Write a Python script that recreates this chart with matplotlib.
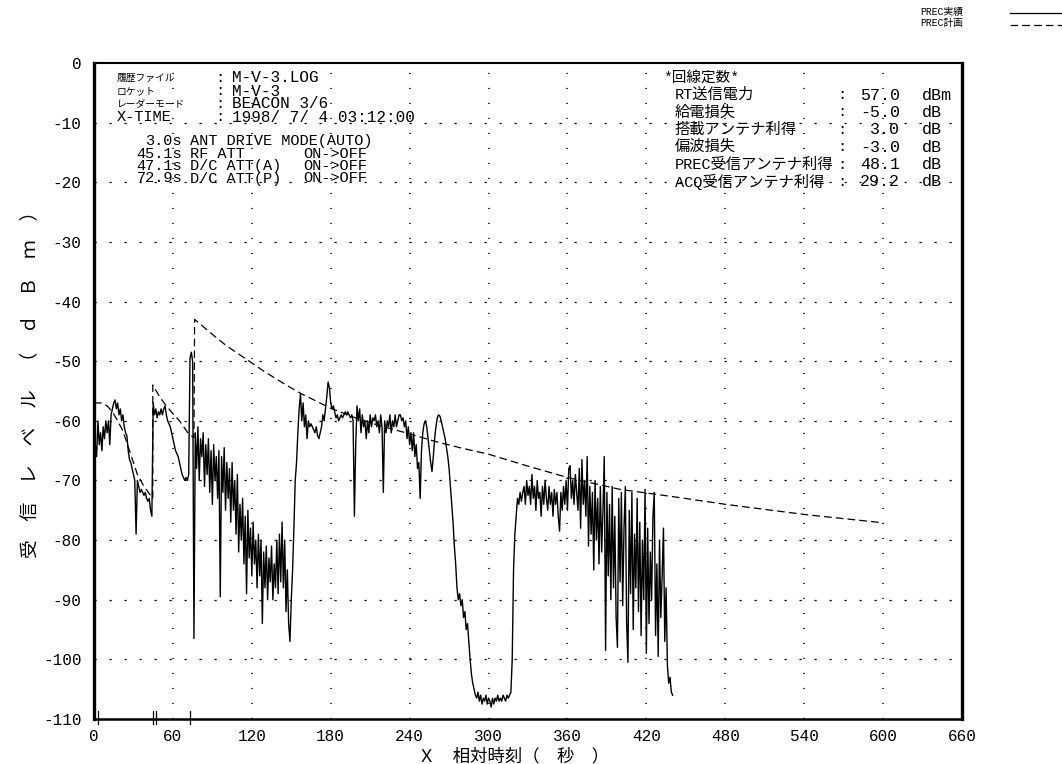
import numpy as np
import matplotlib

matplotlib.use("Agg")
import matplotlib.pyplot as plt
from matplotlib.lines import Line2D

plt.rcParams.update({
    "axes.unicode_minus": False,
    "lines.scale_dashes": False,
})

MONO = ["Liberation Mono", "Noto Sans CJK JP"]
JP = ["Noto Sans CJK JP", "DejaVu Sans"]
W, H = 1062, 764

# measured PREC level, one sample per second from t = 0 s
MEAS_DB = [
    -86, -64, -66, -60, -64, -62, -65, -61, -63, -60,
    -62, -60, -64, -59, -58, -57, -56.5, -58, -57, -59,
    -58, -60, -59, -61, -62, -62.5, -65, -66.5, -67, -68,
    -69, -70, -79, -70, -71, -72, -71.5, -72, -72.5, -72,
    -73, -73.5, -73, -75, -76, -57, -59, -58, -59.5, -58.5,
    -59, -58, -59, -58, -57.5, -59, -60, -60.5, -61, -62,
    -63, -64, -65, -65.5, -66, -67, -68, -69, -69.5, -70,
    -69.5, -70, -69, -49.5, -48.5, -50, -96.5, -62, -68, -61,
    -70, -63, -66, -62, -71, -64, -69, -63, -72, -65,
    -74, -64, -70, -66, -73, -65, -89.5, -66, -72, -64.5,
    -75, -67, -73, -68, -77, -67, -75, -70, -79, -69,
    -82, -74, -80, -73, -84, -76, -89, -75, -83, -78,
    -86, -77, -84, -80, -88, -79, -86, -80, -94, -82,
    -88, -81, -90, -83, -87, -81, -90, -84, -88, -80,
    -89, -79, -87, -77, -88, -80, -92, -85, -94, -97,
    -90, -85, -78, -70, -67, -62, -58, -55.5, -60, -57,
    -61, -59, -63, -60, -61, -60.5, -61, -61.5, -62, -61,
    -62.5, -63, -62, -61, -59, -60, -58, -56, -53.5, -54.5,
    -57, -58, -57.5, -58.5, -59.5, -59, -60, -59.5, -59, -59.5,
    -59, -58.5, -59, -58.5, -59, -59.5, -59, -60, -76, -64,
    -57.5, -60, -58, -62, -59, -61, -60, -63, -60, -62,
    -59, -61, -59.5, -60, -59, -61, -60, -62, -59, -61,
    -72, -60, -62, -60, -61, -59, -62, -60, -61, -59,
    -61, -60, -59, -59, -60, -59.5, -61, -60, -63, -61,
    -64, -62, -65, -62, -66, -64, -68, -67, -73, -65,
    -62, -60.5, -60, -61, -63, -65, -67, -68.5, -66, -63,
    -61, -59.5, -59, -59.2, -60, -61, -62, -63, -64.5, -66,
    -68, -71, -74, -77, -81, -84, -88, -90, -89, -91,
    -90, -93, -92, -95, -94, -97, -100, -102.5, -104, -105,
    -106, -106.5, -105.5, -107, -106, -107.5, -106.5, -107, -106, -107.5,
    -106.5, -107, -108, -106.5, -107.5, -106.5, -107, -106, -107, -106.5,
    -107, -106, -106.5, -107, -106, -106.5, -106, -105.5, -100, -85,
    -79, -76, -73, -74, -72, -73.5, -72, -71, -74, -70,
    -72.5, -71, -74, -69, -73, -71, -75, -70, -73, -72,
    -76, -71, -74, -70, -73, -75, -71, -74, -72, -76,
    -71.5, -74, -72, -76, -78.5, -72, -75, -71, -74, -70,
    -75, -68, -67.5, -73, -70, -74, -69, -72, -75, -68,
    -78, -66.5, -74, -70, -76, -66, -81, -71, -79, -72,
    -85, -70, -80, -73, -84, -71, -82, -75, -66, -98.5,
    -72, -86, -74, -90, -71, -88, -76, -93, -98, -73,
    -87, -72, -91, -78, -71, -94, -100.5, -75, -89, -72,
    -95, -79, -88, -73, -92, -77, -96, -80, -90, -71.5,
    -99, -78, -94, -82, -90, -76, -72, -96, -84, -99.5,
    -80, -93, -86, -78, -97, -88, -101, -104, -103, -105.5,
    -106,
]
MEAS_T = np.arange(len(MEAS_DB))

# planned PREC level
PLAN_T = [0, 5, 10, 14, 18, 22, 27, 33, 38, 44.7, 44.7, 50, 55, 60, 65, 72, 76,
          76.5, 90, 100, 110, 120, 130, 141, 150, 158, 170, 180, 200, 220, 237,
          260, 280, 300, 330, 360, 400, 443, 480, 540, 600]
PLAN_DB = [-57, -57, -57.5, -58.5, -60, -61.7, -65, -69, -71, -73, -54, -56,
           -57.5, -58.8, -60, -62.2, -62.8, -43, -45.5, -47.3, -48.8, -50.3,
           -51.8, -53.3, -54.5, -55.5, -56.8, -57.9, -59.6, -61, -62, -63.5,
           -64.6, -65.6, -67.6, -69.5, -71.5, -72.8, -74, -75.7, -77.1]

EVENT_T = [3.0, 45.1, 47.1, 72.9]
EVENT_TXT = ["ANT DRIVE MODE(AUTO)", "RF ATT", "D/C ATT(A)", "D/C ATT(P)"]
EVENT_STATE = ["", "ON->OFF", "ON->OFF", "ON->OFF"]

HEAD_KEYS = ["履歴ファイル", "ロケット", "レーダーモード", "X-TIME"]
HEAD_VALS = ["M-V-3.LOG", "M-V-3", "BEACON 3/6", "1998/ 7/ 4 03:12:00"]

LINK_KEYS = ["RT送信電力", "給電損失", "搭載アンテナ利得", "偏波損失",
             "PREC受信アンテナ利得", "ACQ受信アンテナ利得"]
LINK_VALS = ["57.0", "-5.0", "3.0", "-3.0", "48.1", "29.2"]
LINK_UNITS = ["dBm", "dB", "dB", "dB", "dB", "dB"]

X_TICKS = list(range(0, 661, 60))
Y_TICKS = list(range(0, -111, -10))


def px(x, y):
    return x / W, 1 - y / H


fig = plt.figure(figsize=(W / 100, H / 100), dpi=100)
ax = fig.add_axes([94 / W, 45 / H, 868 / W, 656 / H])

for x in X_TICKS[1:-1]:
    ax.axvline(x, color="black", lw=1.1, ls=(0, (0.8, 10)), zorder=1)
for y in Y_TICKS[1:-1]:
    ax.axhline(y, color="black", lw=0.9, ls=(0, (1.6, 9.2)), zorder=1)

ax.plot(MEAS_T, MEAS_DB, color="black", lw=1.0, zorder=3)
ax.plot(PLAN_T, PLAN_DB, color="black", lw=0.9, ls=(0, (5.5, 3)), zorder=3)

for t in EVENT_T:
    ax.plot([t, t], [-108.6, -110.8], color="black", lw=0.9, clip_on=False, zorder=4)

ax.set_xlim(0, 660)
ax.set_ylim(-110, 0)
ax.set_xticks(X_TICKS)
ax.set_xticklabels([str(v) for v in X_TICKS], family=MONO, fontsize=11.5)
ax.set_yticks(Y_TICKS)
ax.set_yticklabels([str(v) for v in Y_TICKS], family=MONO, fontsize=11.5)
ax.tick_params(axis="y", length=0, pad=9)
ax.tick_params(axis="x", length=0, pad=7)
for side, lw in [("left", 2.4), ("right", 2.4), ("top", 1.5), ("bottom", 1.8)]:
    ax.spines[side].set_linewidth(lw)

fig.text(*px(30, 380), "受\u3000信\u3000レ\u3000ベ\u3000ル\u3000（\u3000ｄ\u3000Ｂ\u3000ｍ\u3000）",
         rotation=90, ha="center", va="center", family=JP, fontsize=13.5)
fig.text(*px(514, 756), "Ｘ\u3000相対時刻（\u3000秒\u3000）", ha="center", va="center",
         family=JP, fontsize=12.5)

# header block
for i, (k, v) in enumerate(zip(HEAD_KEYS, HEAD_VALS)):
    y = 78 + 13 * i
    size = 11 if k == "X-TIME" else 7
    fig.text(*px(117, y), k, family=MONO, fontsize=size, va="center")
    fig.text(*px(215, y), ":", family=MONO, fontsize=11, va="center")
    fig.text(*px(232, y), v, family=MONO, fontsize=11.5, va="center")

# event log
for i, t in enumerate(EVENT_T):
    y = 141 + 12.5 * i
    fig.text(*px(182, y), f"{t:.1f}s", family=MONO, fontsize=11, va="center", ha="right")
    fig.text(*px(190, y), EVENT_TXT[i], family=MONO, fontsize=11, va="center")
    fig.text(*px(303, y), EVENT_STATE[i], family=MONO, fontsize=11, va="center")

# link budget block
fig.text(*px(663, 78), "*回線定数*", family=MONO, fontsize=10.5, va="center")
for i, (k, v, u) in enumerate(zip(LINK_KEYS, LINK_VALS, LINK_UNITS)):
    y = 95 + 17.4 * i
    fig.text(*px(675, y), k, family=MONO, fontsize=11, va="center")
    fig.text(*px(837, y), ":", family=MONO, fontsize=11, va="center")
    fig.text(*px(900, y), v, family=MONO, fontsize=12, va="center", ha="right")
    fig.text(*px(922, y), u, family=MONO, fontsize=12, va="center")

# legend in the top right corner
fig.text(*px(920, 12), "PREC実績", family=MONO, fontsize=7, va="center")
fig.text(*px(920, 23), "PREC計画", family=MONO, fontsize=7, va="center")
fig.add_artist(Line2D([1010 / W, 1062 / W], [1 - 13 / H, 1 - 13 / H],
                      color="black", lw=0.9, transform=fig.transFigure))
fig.add_artist(Line2D([1010 / W, 1062 / W], [1 - 25 / H, 1 - 25 / H],
                      color="black", lw=0.9, ls=(0, (5.5, 3)), transform=fig.transFigure))

fig.savefig("out.png", dpi=100)
